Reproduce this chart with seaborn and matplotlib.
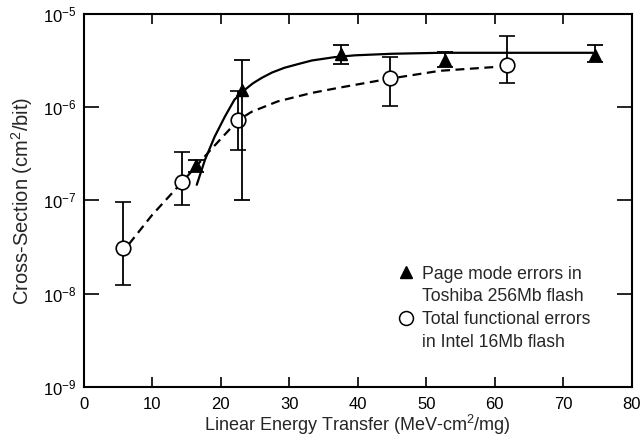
import numpy as np
import pandas as pd
import matplotlib
matplotlib.use("Agg")
import matplotlib.pyplot as plt
import matplotlib.ticker as mticker
from matplotlib.lines import Line2D
import seaborn as sns

# Toshiba 256Mb flash, page mode errors (triangles)
tosh_let = [16.4, 23.1, 37.5, 52.8, 74.7]
tosh_xs = [2.4e-7, 1.53e-6, 3.7e-6, 3.2e-6, 3.6e-6]
tosh_lo = [2.0e-7, 1.0e-7, 2.9e-6, 2.7e-6, 3.05e-6]
tosh_hi = [2.7e-7, 3.2e-6, 4.65e-6, 3.9e-6, 4.65e-6]

# Intel 16Mb flash, total functional errors (circles)
intel_let = [5.7, 14.4, 22.5, 44.7, 61.8]
intel_xs = [3.1e-8, 1.58e-7, 7.2e-7, 2.04e-6, 2.84e-6]
intel_lo = [1.25e-8, 8.9e-8, 3.5e-7, 1.02e-6, 1.82e-6]
intel_hi = [9.6e-8, 3.3e-7, 1.5e-6, 3.45e-6, 5.8e-6]

# fit curves
tosh_fit_let = [16.5, 17.7, 19.1, 20.6, 22.0, 23.5, 24.7, 26.0, 27.5, 29.3, 31.2, 33.3,
                36.6, 39.6, 45.0, 52.0, 74.3]
tosh_fit_xs = [1.47e-7, 2.72e-7, 4.8e-7, 7.9e-7, 1.2e-6, 1.53e-6, 1.8e-6, 2.06e-6, 2.35e-6,
               2.64e-6, 2.88e-6, 3.16e-6, 3.43e-6, 3.59e-6, 3.73e-6, 3.82e-6, 3.82e-6]
intel_fit_let = [6.6, 10.0, 14.4, 18.4, 22.5, 24.5, 28.3, 33.3, 37.4, 44.7, 52.0, 60.3]
intel_fit_xs = [3.4e-8, 7.0e-8, 1.58e-7, 3.4e-7, 7.2e-7, 8.9e-7, 1.15e-6, 1.42e-6,
                1.62e-6, 2.02e-6, 2.45e-6, 2.7e-6]

sns.set_style("ticks")
plt.rcParams['font.family'] = ['Liberation Sans', 'DejaVu Sans']
plt.rcParams['mathtext.fontset'] = 'custom'
plt.rcParams['mathtext.rm'] = 'Liberation Sans'
plt.rcParams['mathtext.it'] = 'Liberation Sans'
plt.rcParams['mathtext.default'] = 'regular'

fig = plt.figure(figsize=(6.44, 4.37), dpi=100)
ax = fig.add_axes([0.130, 0.1144, 0.851, 0.854])

fit1 = pd.DataFrame({"let": tosh_fit_let, "xs": tosh_fit_xs})
fit2 = pd.DataFrame({"let": intel_fit_let, "xs": intel_fit_xs})
sns.lineplot(data=fit1, x="let", y="xs", ax=ax, color="black", lw=1.6, sort=False)
sns.lineplot(data=fit2, x="let", y="xs", ax=ax, color="black", lw=1.6, sort=False,
             linestyle=(0, (4, 2.5)))

t_err = [np.array(tosh_xs) - np.array(tosh_lo), np.array(tosh_hi) - np.array(tosh_xs)]
i_err = [np.array(intel_xs) - np.array(intel_lo), np.array(intel_hi) - np.array(intel_xs)]
ax.errorbar(intel_let, intel_xs, yerr=i_err, fmt='o', ms=10.5, mfc='white', mec='black',
            mew=1.2, ecolor='black', elinewidth=1.3, capsize=6, capthick=1.3, zorder=3)
ax.errorbar(tosh_let, tosh_xs, yerr=t_err, fmt='^', ms=9, mfc='black', mec='black',
            ecolor='black', elinewidth=1.3, capsize=6, capthick=1.3, zorder=4)

ax.set_yscale('log')
ax.set_xlim(0, 80)
ax.set_ylim(1e-9, 1e-5)
ax.xaxis.set_major_locator(mticker.MultipleLocator(10))
ax.yaxis.set_major_locator(mticker.LogLocator(base=10, numticks=10))
ax.yaxis.set_minor_locator(mticker.NullLocator())
ax.tick_params(axis='x', direction='in', length=7, width=1.2, top=True, labelsize=12,
               pad=7, colors='black')
ax.tick_params(axis='y', direction='in', length=11, width=1.2, right=True, labelsize=12,
               pad=5, colors='black')
for s in ax.spines.values():
    s.set_linewidth(1.5)
    s.set_color('black')

ax.set_xlabel("Linear Energy Transfer (MeV-cm$^2$/mg)", fontsize=13, labelpad=0.5)
ax.set_ylabel("Cross-Section (cm$^2$/bit)", fontsize=14.5, labelpad=6)

# legend: marker sits on the first line of each two-line label
blank = Line2D([], [], linestyle='none')
handles = [Line2D([], [], linestyle='none', marker='^', ms=9, color='black'), blank,
           Line2D([], [], linestyle='none', marker='o', ms=10, mfc='white', mec='black', mew=1.1),
           blank]
labels = ["Page mode errors in", "Toshiba 256Mb flash",
          "Total functional errors", "in Intel 16Mb flash"]
ax.legend(handles, labels, loc='upper left', bbox_to_anchor=(0.560, 0.349),
          frameon=False, fontsize=12.7, handlelength=0.8, handletextpad=0.5,
          labelspacing=0.33, borderpad=0)

fig.savefig("out.png", dpi=100)
